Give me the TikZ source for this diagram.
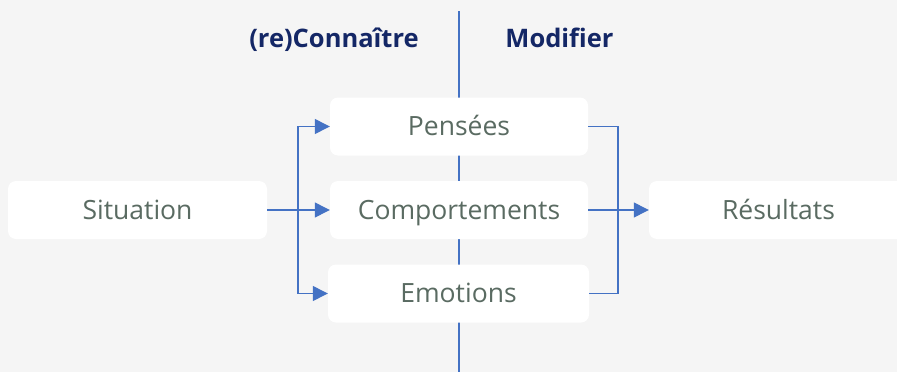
\documentclass[tikz,border=0pt]{standalone}
\usepackage{fontspec}
\setmainfont{Open Sans}
\usetikzlibrary{arrows.meta}
\definecolor{bg}{HTML}{F5F5F5}
\definecolor{txt}{HTML}{5A6B62}
\definecolor{ttl}{HTML}{142766}
\definecolor{ln}{HTML}{4472C4}
\tikzset{
  box/.style={fill=white, rounded corners=8pt, minimum width=259pt, minimum height=58pt, inner sep=0pt, text=txt, font=\fontsize{26.5}{30}\selectfont, text height=18.9pt, text depth=0pt},
  ttlstyle/.style={text=ttl, font=\fontsize{25.5}{30}\selectfont\bfseries, text height=18.2pt, text depth=0pt, inner sep=0pt},
  conn/.style={draw=ln, line width=1.3pt},
  arr/.style={conn, -{Triangle[length=15pt,width=15pt]}},
}
\begin{document}
\begin{tikzpicture}[x=1pt,y=-1pt]
\path[use as bounding box, fill=bg] (0,0) rectangle (897,372);
\begin{scope}
\clip (0,0) rectangle (897,372);
\coordinate (vt) at (459,11);
\coordinate (vb) at (459,372);
\draw[draw=ln, line width=1.2pt] (vt) -- (vb);
\node[ttlstyle] (t1) at (334,38.8) {(re)Connaître};
\node[ttlstyle] (t2) at (559.5,38.8) {Modifier};
\node[box] (sit) at (137.5,210) {Situation};
\node[box, minimum width=258pt] (pen) at (459,126.5) {Pensées};
\node[box, minimum width=258pt] (com) at (459,210) {Comportements};
\node[box, minimum width=261pt] (emo) at (458.5,293.5) {Emotions};
\node[box] (res) at (778.5,210) {Résultats};
\coordinate (jl) at (298,210);
\coordinate (jr) at (618,210);
\draw[conn] (sit.east) -- (jl);
\draw[arr] (jl) |- (pen.west);
\draw[arr] (jl) -- (com.west);
\draw[arr] (jl) |- (emo.west);
\draw[conn] (pen.east) -| (jr);
\draw[conn] (emo.east) -| (jr);
\draw[conn] (com.east) -- (jr);
\draw[arr] (jr) -- (res.west);
\end{scope}
\end{tikzpicture}
\end{document}
